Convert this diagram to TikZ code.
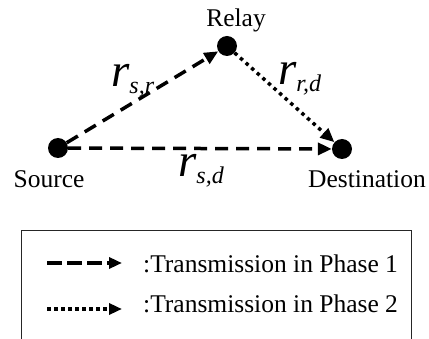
\documentclass[tikz,border=0pt]{standalone}
\usepackage{fontspec}
\setmainfont{Liberation Serif}
\usetikzlibrary{arrows.meta}

% link label: big italic r with an italic subscript
\newcommand{\linklbl}[1]{{\fontsize{47}{47}\selectfont\itshape r}\raisebox{-7pt}{\fontsize{24}{24}\selectfont\itshape #1}}

\begin{document}
\begin{tikzpicture}[x=1pt,y=-1pt,
  txt/.style={font=\fontsize{25.5}{29}\selectfont, inner sep=0pt},
  dot/.style={circle, fill=black, minimum size=20pt, inner sep=0pt},
  tip/.style={-{Triangle[length=14pt,width=12pt]}},
  phaseone/.style={tip, line width=3.5pt, dash pattern=on 13pt off 8pt},
  phasetwo/.style={tip, line width=3.5pt, dash pattern=on 3.5pt off 4pt},
  lg1/.style={-{Triangle[length=13pt,width=11pt]}, line width=3.5pt, dash pattern=on 15pt off 5pt},
  lg2/.style={-{Triangle[length=13pt,width=11pt]}, line width=3.5pt, dash pattern=on 3.5pt off 3.5pt}]
\useasboundingbox (0,0) rectangle (429,339);

% the three terminals
\node[dot] (src) at (58,148) {};
\node[dot] (rly) at (227,46) {};
\node[dot] (dst) at (342,149) {};

\node[txt, anchor=base] (srclbl) at (49,188) {Source};
\node[txt, anchor=base] (rlylbl) at (236,27) {Relay};
\node[txt, anchor=base] (dstlbl) at (367,188) {Destination};

% links
\draw[phaseone] (src) -- (rly);
\draw[phaseone] (src) -- (dst);
\draw[phasetwo] (rly) -- (dst);

\node[anchor=base west, inner sep=0pt] (lsr) at (111,87) {\linklbl{s,r}};
\node[anchor=base west, inner sep=0pt] (lrd) at (278,85) {\linklbl{r,d}};
\node[anchor=base west, inner sep=0pt] (lsd) at (178,177) {\linklbl{s,d}};

% legend
\begin{scope}
\clip (0,0) rectangle (429,339);
\draw[line width=1pt, draw=black!85] (21,231) rectangle (411,350);
\end{scope}
\coordinate (a1) at (47,263);
\coordinate (b1) at (122,263);
\coordinate (a2) at (47,309);
\coordinate (b2) at (122,309);
\draw[lg1] (a1) -- (b1);
\draw[lg2] (a2) -- (b2);
\node[txt, anchor=base west] (t1) at (143,273) {:Transmission in Phase 1};
\node[txt, anchor=base west] (t2) at (143,313) {:Transmission in Phase 2};
\end{tikzpicture}
\end{document}
